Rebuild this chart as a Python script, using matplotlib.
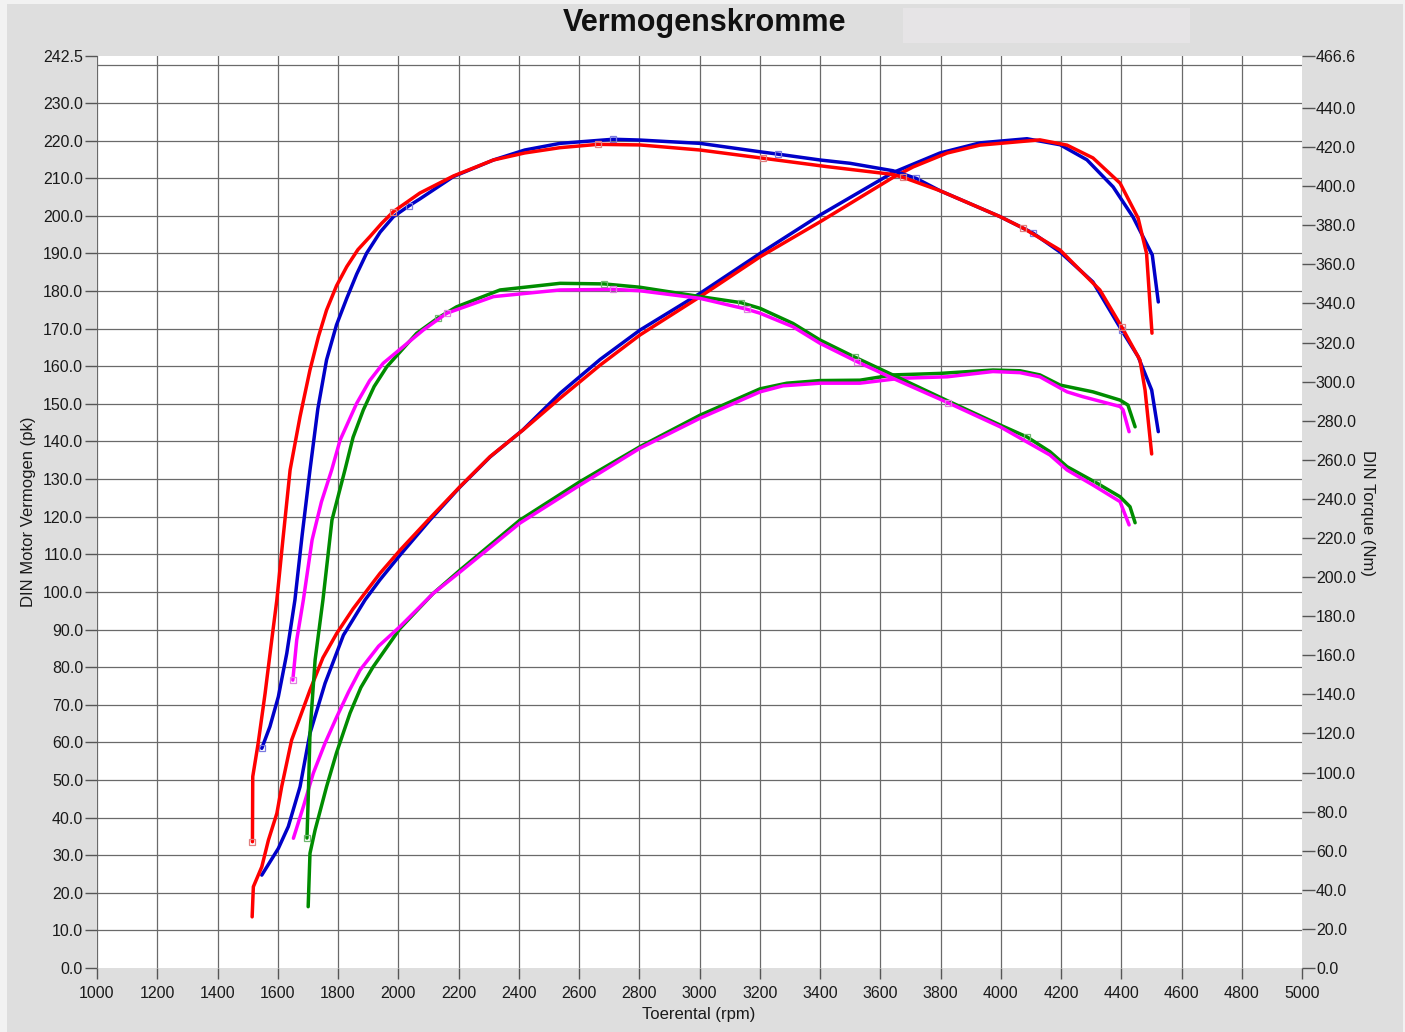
import matplotlib
matplotlib.use("Agg")
import matplotlib.pyplot as plt
from matplotlib.patches import Rectangle
import numpy as np

plt.rcParams['font.family'] = ['Liberation Sans', 'DejaVu Sans']

# power curves (pk) - left axis
bp_rpm = [1547, 1602, 1635, 1674, 1707, 1757, 1818, 1890, 1939, 2006, 2105, 2205, 2305, 2414, 2537,
          2670, 2802, 3002, 3201, 3400, 3642, 3798, 3931, 4087, 4197, 4286, 4373, 4439, 4503, 4523]
bp_pk = [24.7, 31.8, 37.6, 48.2, 62.4, 75.7, 88.5, 97.9, 103.2, 109.8, 119.1, 127.9, 135.9, 143.1, 152.8,
         161.8, 169.6, 179.4, 190.0, 200.2, 211.5, 216.7, 219.4, 220.5, 218.9, 214.9, 207.7, 199.7, 189.6, 177.1]

rp_rpm = [1515, 1519, 1547, 1569, 1597, 1613, 1646, 1707, 1750, 1796, 1850, 1900, 1939, 2006, 2105, 2205,
          2305, 2415, 2537, 2670, 2802, 3002, 3201, 3400, 3642, 3709, 3822, 3931, 4130, 4220, 4306, 4396,
          4456, 4484, 4502]
rp_pk = [13.6, 21.6, 26.9, 34.0, 41.1, 48.2, 60.6, 73.9, 82.5, 89.0, 95.5, 100.8, 104.9, 111.1, 119.6, 128.0,
         136.0, 143.1, 151.5, 160.3, 168.3, 178.5, 189.1, 198.4, 210.2, 213.0, 216.7, 218.8, 220.2, 218.8, 215.4, 208.7,
         199.4, 190.0, 168.8]

gp_rpm = [1701, 1707, 1724, 1762, 1795, 1840, 1876, 1916, 2006, 2116, 2205, 2404, 2603, 2802, 3002, 3201,
          3290, 3400, 3533, 3642, 3798, 3974, 4064, 4130, 4197, 4306, 4396, 4422, 4446]
gp_pk = [16.3, 30.5, 36.7, 48.2, 57.2, 67.8, 74.6, 80.0, 90.3, 99.6, 105.8, 119.1, 129.3, 138.6, 147.0, 154.0,
         155.5, 156.2, 156.3, 157.7, 158.1, 159.0, 158.8, 157.7, 155.0, 153.2, 151.0, 149.7, 143.9]

mp_rpm = [1652, 1685, 1718, 1757, 1796, 1835, 1873, 1935, 2006, 2116, 2205, 2404, 2603, 2802, 3002, 3201,
          3277, 3400, 3533, 3666, 3822, 3974, 4064, 4130, 4220, 4273, 4396, 4406, 4426]
mp_pk = [34.5, 42.9, 51.8, 59.8, 66.8, 73.4, 79.2, 85.6, 90.8, 99.6, 105.3, 118.3, 128.4, 138.2, 146.2, 153.2,
         154.8, 155.5, 155.5, 156.8, 157.2, 158.6, 158.3, 157.2, 153.2, 151.9, 149.3, 148.4, 142.6]

# torque curves (Nm) - right axis
bt_rpm = [1547, 1574, 1602, 1630, 1657, 1681, 1707, 1733, 1762, 1795, 1829, 1862, 1895, 1940, 1984, 2036,
          2072, 2183, 2316, 2420, 2537, 2713, 2802, 3002, 3201, 3260, 3400, 3500, 3642, 3719, 3798, 3998,
          4107, 4197, 4306, 4401, 4456, 4501, 4523]
bt_nm = [112.4, 123.5, 138.8, 161.0, 188.3, 221.5, 254.8, 286.0, 311.1, 329.0, 342.6, 355.0, 365.7, 376.5, 384.4, 390.0,
         393.5, 404.9, 413.4, 418.5, 421.9, 424.0, 423.6, 421.9, 417.6, 416.4, 413.4, 411.7, 407.9, 404.0, 397.7, 384.4,
         376.0, 366.3, 351.0, 326.4, 312.8, 295.7, 274.4]

rt_rpm = [1516, 1517, 1535, 1558, 1580, 1597, 1617, 1641, 1674, 1707, 1735, 1762, 1795, 1829, 1866, 1906,
          1945, 1984, 2072, 2183, 2316, 2420, 2537, 2663, 2802, 3002, 3211, 3423, 3642, 3676, 3798, 3998,
          4075, 4197, 4329, 4401, 4462, 4479, 4501]
rt_nm = [64.6, 97.9, 115.0, 140.5, 167.8, 188.3, 219.0, 254.8, 282.1, 306.0, 323.0, 336.6, 349.0, 358.8, 367.5, 374.2,
         381.0, 387.0, 396.5, 405.2, 413.4, 417.0, 419.7, 421.4, 421.1, 418.5, 414.3, 410.0, 406.0, 404.5, 397.7, 384.4,
         378.5, 367.3, 346.9, 328.1, 311.1, 295.7, 263.0]

gt_rpm = [1697, 1702, 1707, 1724, 1750, 1780, 1823, 1850, 1884, 1920, 1962, 2061, 2132, 2194, 2338, 2537,
          2683, 2802, 3002, 3138, 3201, 3310, 3400, 3516, 3642, 3822, 3998, 4087, 4163, 4220, 4320, 4396,
          4429, 4446]
gt_nm = [66.5, 91.1, 120.2, 157.6, 188.3, 229.2, 254.8, 271.5, 285.5, 297.5, 307.6, 324.7, 332.6, 338.3, 346.9, 350.3,
         350.0, 348.3, 343.5, 340.4, 337.5, 329.8, 321.3, 312.5, 303.4, 290.3, 277.8, 271.7, 264.2, 256.5, 248.0, 241.1,
         236.0, 227.8]

mt_rpm = [1650, 1663, 1685, 1714, 1745, 1779, 1807, 1862, 1905, 1950, 2083, 2161, 2316, 2537, 2713, 2802,
          3002, 3158, 3201, 3310, 3400, 3523, 3642, 3825, 3998, 4163, 4220, 4306, 4396, 4426]
mt_nm = [147.3, 167.8, 188.3, 219.0, 238.5, 254.8, 270.1, 288.9, 300.5, 309.4, 326.4, 335.0, 343.5, 346.9, 347.2, 346.5,
         342.6, 337.0, 335.0, 328.1, 319.6, 310.2, 301.7, 289.2, 276.9, 262.5, 254.8, 247.1, 238.6, 226.7]

# rpm points that carry a small square marker
bt_marks = [1547, 2036, 2713, 3260, 3719, 4107, 4401]
rt_marks = [1516, 1984, 2663, 3211, 3676, 4075, 4401]
gt_marks = [1697, 2132, 2683, 3138, 3516, 4087, 4320]
mt_marks = [1650, 2161, 2713, 3158, 3523, 3825]

x_ticks = list(range(1000, 5001, 200))
pk_ticks = [i * 10.0 for i in range(24)] + [242.5]
nm_ticks = [i * 20.0 for i in range(23)] + [466.6]

W, H = 1405, 1032
fig = plt.figure(figsize=(W / 100, H / 100), dpi=100)
fig.patch.set_facecolor('#f2f2f2')
fig.patches.append(Rectangle((7 / W, 0), (1403 - 7) / W, (H - 4) / H, transform=fig.transFigure,
                             facecolor='#dedede', edgecolor='none', zorder=-10))
fig.patches.append(Rectangle((903 / W, 1 - 43 / H), 287 / W, 35 / H, transform=fig.transFigure,
                             facecolor='#e6e4e6', edgecolor='none', zorder=-9))

ax = fig.add_axes([97 / W, 1 - 968 / H, (1302 - 97) / W, (968 - 56) / H])
ax.set_facecolor('white')
ax.set_xlim(1000, 5000)
ax.set_ylim(0, 242.5)

for x in range(1000, 5000, 200):
    ax.axvline(x, color='#6a6a6a', lw=0.9, zorder=1)
for y in range(10, 250, 10):
    ax.axhline(y, color='#6a6a6a', lw=0.9, zorder=1)

for s in ax.spines.values():
    s.set_visible(False)

ax.set_xticks(x_ticks)
ax.set_xticklabels([str(x) for x in x_ticks])
ax.set_yticks(pk_ticks)
ax.set_yticklabels(["%.1f" % v for v in pk_ticks])
ax.tick_params(axis='y', direction='out', length=9, width=1, color='#555555', pad=1,
               labelsize=11.5, labelcolor='#1a1a1a')
ax.tick_params(axis='x', direction='out', length=8, width=1, color='#555555', pad=5,
               labelsize=11.5, labelcolor='#1a1a1a')

ax2 = ax.twinx()
ax2.set_ylim(0, 466.6)
for s in ax2.spines.values():
    s.set_visible(False)
ax2.set_yticks(nm_ticks)
ax2.set_yticklabels(["%.1f" % v for v in nm_ticks])
ax2.tick_params(axis='y', direction='out', length=9, width=1, color='#555555', pad=1,
                labelsize=11.5, labelcolor='#1a1a1a')

lw = 2.5
ax.plot(bp_rpm, bp_pk, color='#0000c8', lw=lw, solid_capstyle='round', solid_joinstyle='round', zorder=3)
ax.plot(rp_rpm, rp_pk, color='#ff0000', lw=lw, solid_capstyle='round', solid_joinstyle='round', zorder=4)
ax.plot(gp_rpm, gp_pk, color='#008c00', lw=lw, solid_capstyle='round', solid_joinstyle='round', zorder=3)
ax.plot(mp_rpm, mp_pk, color='#ff00ff', lw=lw, solid_capstyle='round', solid_joinstyle='round', zorder=4)


def torque(rpm, nm, marks, col, mcol):
    idx = [i for i, r in enumerate(rpm) if r in marks]
    ax2.plot(rpm, nm, color=col, lw=lw, solid_capstyle='round', solid_joinstyle='round',
             marker='s', markevery=idx, markersize=5, mfc='none', mec=mcol, mew=0.9)


torque(bt_rpm, bt_nm, bt_marks, '#0000c8', '#7a7ae0')
torque(rt_rpm, rt_nm, rt_marks, '#ff0000', '#e08080')
torque(gt_rpm, gt_nm, gt_marks, '#008c00', '#70b870')
torque(mt_rpm, mt_nm, mt_marks, '#ff00ff', '#e080e0')

fig.text(705 / W, 1 - 23 / H, "Vermogenskromme", ha='center', va='center',
         fontsize=22, fontweight='bold', color='#111111')
fig.text(29 / W, 1 - 512 / H, "DIN Motor Vermogen (pk)", rotation=90, ha='center', va='center',
         fontsize=12, color='#1a1a1a')
fig.text(1368 / W, 1 - 513 / H, "DIN Torque (Nm)", rotation=270, ha='center', va='center',
         fontsize=12, color='#1a1a1a')
fig.text(699 / W, 1 - 1015 / H, "Toerental (rpm)", ha='center', va='center',
         fontsize=12, color='#1a1a1a')

plt.savefig("out.png", dpi=100, facecolor=fig.get_facecolor())
